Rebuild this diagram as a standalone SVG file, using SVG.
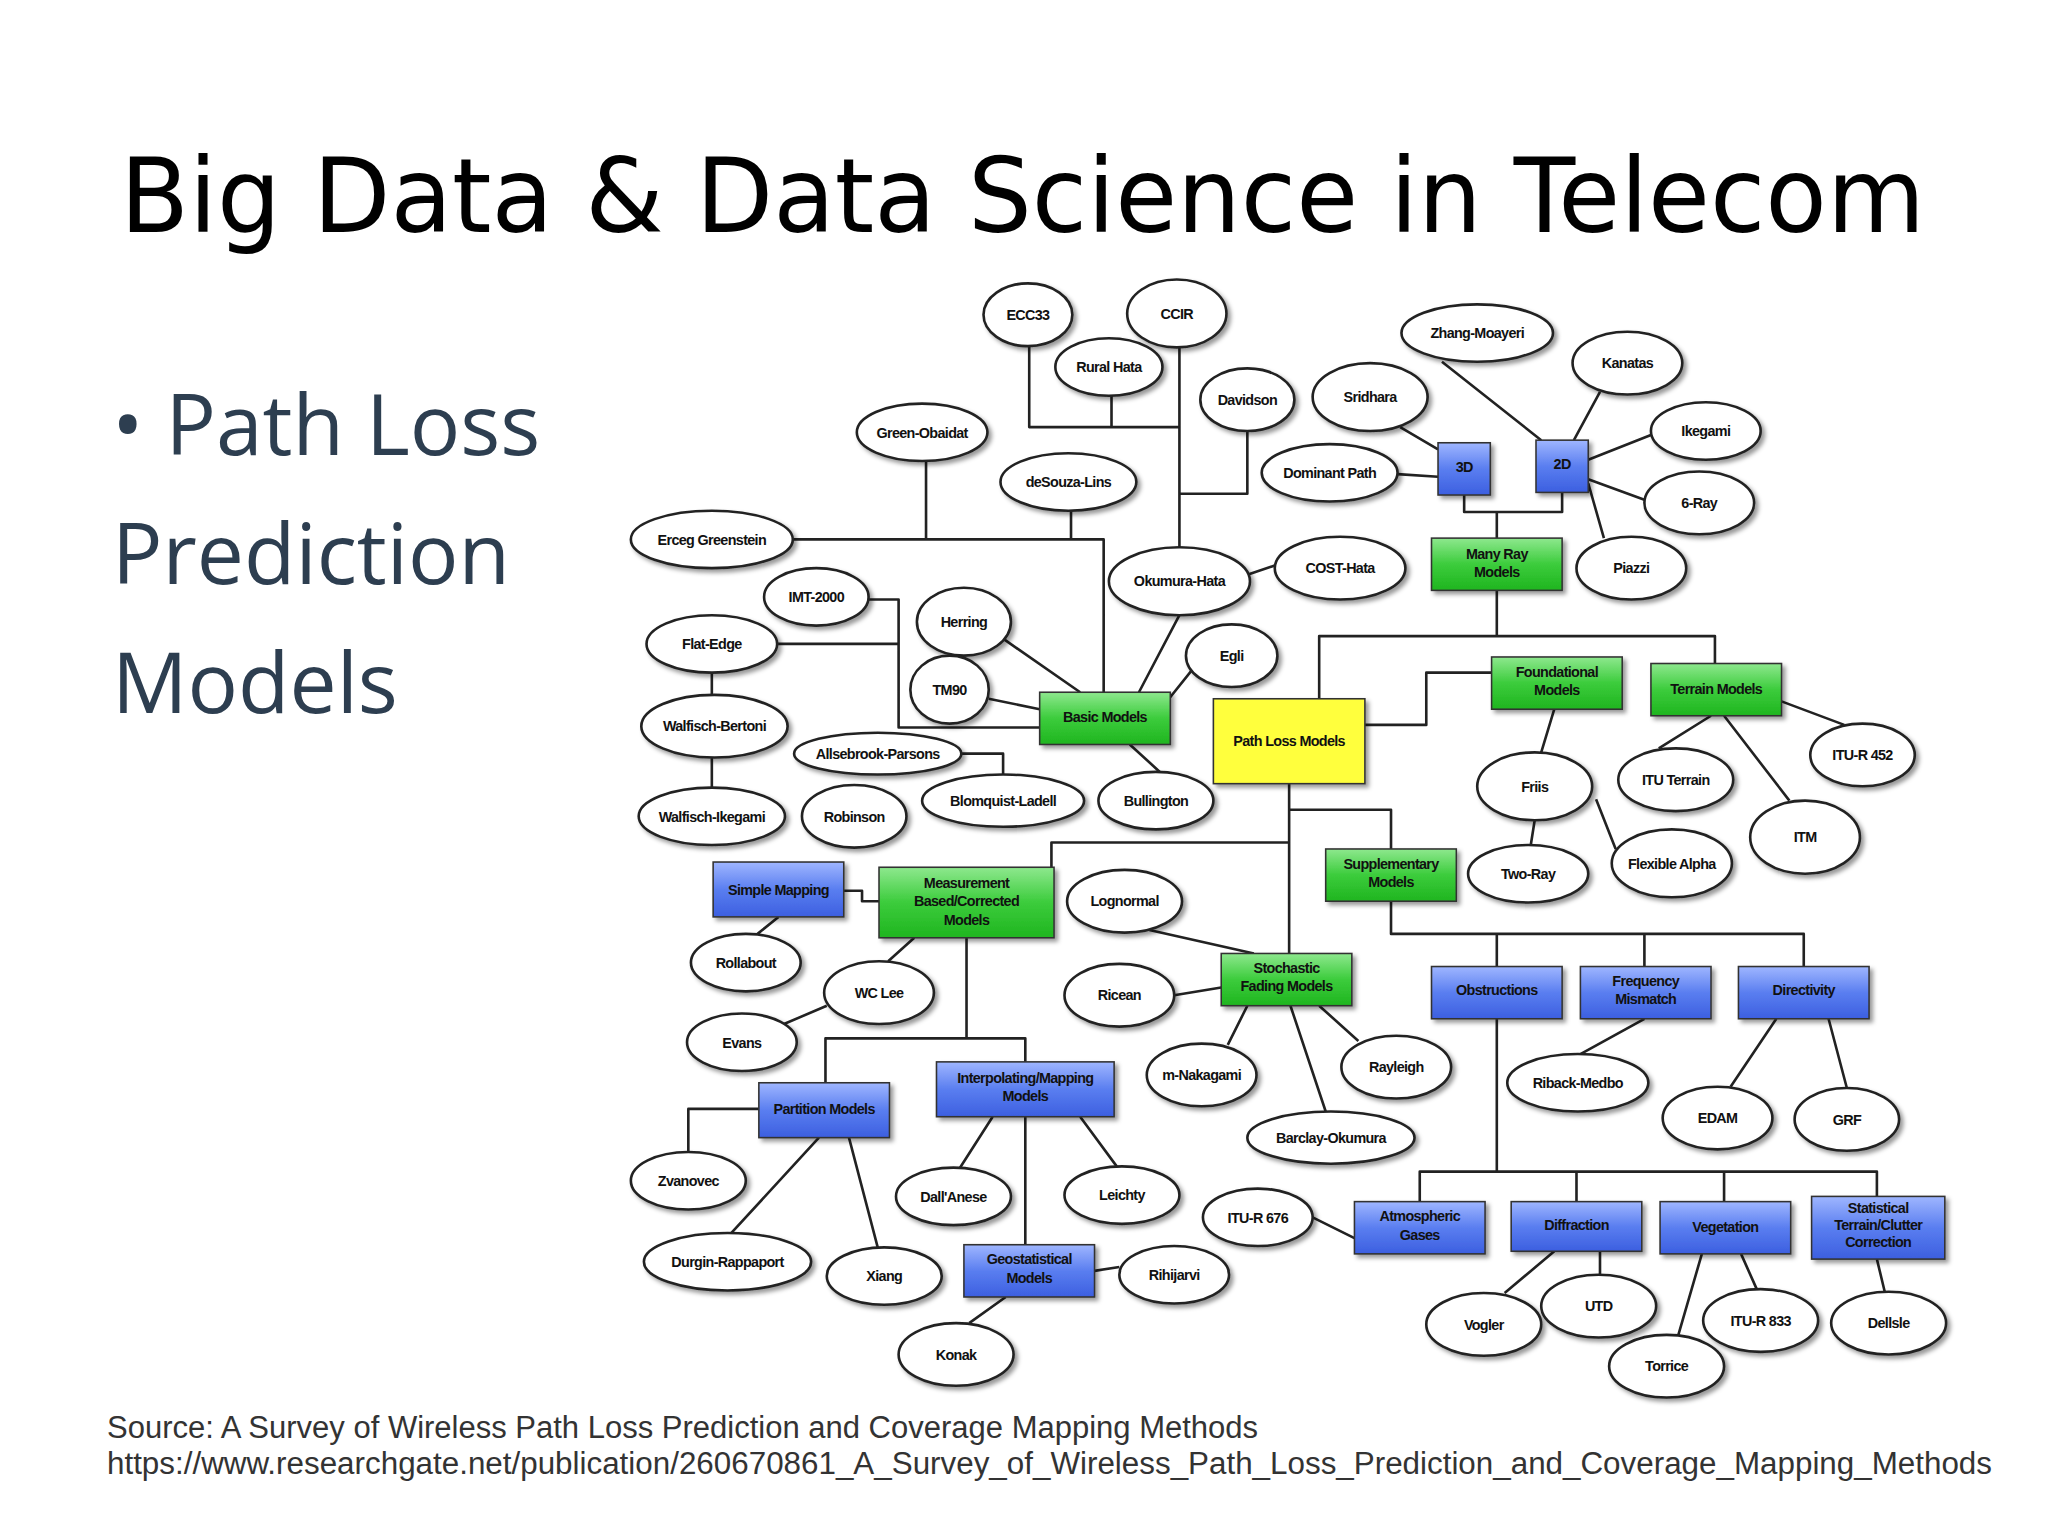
<svg xmlns="http://www.w3.org/2000/svg" width="2048" height="1536" viewBox="0 0 2048 1536">
<defs>
<linearGradient id="gg" x1="0" y1="0" x2="0" y2="1"><stop offset="0" stop-color="#8ee88e"/><stop offset="0.5" stop-color="#3ccc3c"/><stop offset="1" stop-color="#1fb51f"/></linearGradient>
<linearGradient id="gb" x1="0" y1="0" x2="0" y2="1"><stop offset="0" stop-color="#9fb6ff"/><stop offset="0.5" stop-color="#5a7ef0"/><stop offset="1" stop-color="#3c5fe0"/></linearGradient>
<filter id="sh" x="-20%" y="-20%" width="150%" height="150%"><feDropShadow dx="2.5" dy="2.5" stdDeviation="1.5" flood-color="#000" flood-opacity="0.4"/></filter>
<style>
.e{fill:#fff;stroke:#222;stroke-width:2;filter:url(#sh)}
.g{fill:url(#gg);stroke:#333;stroke-width:1.2;filter:url(#sh)}
.b{fill:url(#gb);stroke:#333;stroke-width:1.2;filter:url(#sh)}
.y{fill:#ffff3c;stroke:#333;stroke-width:1.2;filter:url(#sh)}
.c{fill:none;stroke:#222;stroke-width:2;stroke-linejoin:round}
text.t{font-family:"Liberation Sans",Arial,sans-serif;font-weight:bold;font-size:11px;text-anchor:middle;fill:#111;letter-spacing:-0.5px}
text.w{fill:#fff}
</style>
</defs>
<rect width="2048" height="1536" fill="#fff"/>
<text x="120" y="232" font-family="'DejaVu Sans',sans-serif" font-size="104" fill="#000" textLength="1805" lengthAdjust="spacingAndGlyphs">Big Data &amp; Data Science in Telecom</text>
<g font-family="'Open Sans','Liberation Sans',sans-serif" font-size="84" fill="#2d3e50">
<text x="112" y="455">•  Path Loss</text>
<text x="112" y="584">Prediction</text>
<text x="112" y="713">Models</text>
</g>
<g font-family="'Liberation Sans',Arial,sans-serif" font-size="31" fill="#333">
<text x="107" y="1438">Source: A Survey of Wireless Path Loss Prediction and Coverage Mapping Methods</text>
<text x="107" y="1474" textLength="1885" lengthAdjust="spacingAndGlyphs">https://www.researchgate.net/publication/260670861_A_Survey_of_Wireless_Path_Loss_Prediction_and_Coverage_Mapping_Methods</text>
</g>
<g transform="scale(1.30612)">
<g id="connectors">
<path class="c" d="M788,265V327H903M851,303V327M903,266V419M955,330V378H903"/>
<path class="c" d="M903,471L872,530M709,353V413M607,413H845V530M820,391V413"/>
<path class="c" d="M665,459H688V557H796M595,493H688M768,489L827,530M757,535L796,543M915,510L895,535M865,570L888,591"/>
<path class="c" d="M545,515V532M545,580V603M736,577H768V593"/>
<path class="c" d="M987,600V730M987,645H805V664M987,620H1065V650"/>
<path class="c" d="M1065,690V715H1381V740M1146,715V897M1259,715V740M1087,920V897H1437V916M1207,897V920M1320,897V920"/>
<path class="c" d="M1010,535V487H1313V508M1146,452V487M1121,379V392H1196V377M1146,392V412"/>
<path class="c" d="M1072,327L1101,344M1070,363L1101,365M1104,277L1180,337M1225,300L1205,337M1264,333L1216,352M1260,383L1216,367M1228,412L1216,370M955,440L976,433"/>
<path class="c" d="M1045,555H1092V515H1142M1190,543L1180,576M1175,628L1172,647M1222,612L1237,650M1310,548L1270,573M1320,548L1370,613M1364,537L1412,555"/>
<path class="c" d="M646,682H660V690H673M596,702L580,715M700,718L680,736M633,770L598,785"/>
<path class="c" d="M740,718V795H632V829M740,795H785V813M880,712L960,730M899,762L935,756M955,770L940,800M988,770L1015,851M1010,770L1040,797"/>
<path class="c" d="M1259,780L1210,807M1360,780L1325,832M1400,780L1414,833"/>
<path class="c" d="M581,849H527V882M627,871L560,944M650,871L672,955M760,855L735,894M785,855V953M827,855L855,893M838,973L857,970M770,993L742,1013"/>
<path class="c" d="M1005,932L1037,948M1190,958L1152,990M1225,958V976M1303,960L1285,1022M1333,960L1345,987M1437,964L1443,989"/>
</g>
<g id="n-ecc33"><ellipse class="e" cx="787" cy="241" rx="34" ry="24"/><text class="t" x="787" y="245">ECC33</text></g>
<g id="n-ccir"><ellipse class="e" cx="901" cy="240" rx="38" ry="26"/><text class="t" x="901" y="244">CCIR</text></g>
<g id="n-ruralhata"><ellipse class="e" cx="849" cy="281" rx="41" ry="22"/><text class="t" x="849" y="285">Rural Hata</text></g>
<g id="n-davidson"><ellipse class="e" cx="955" cy="306" rx="36" ry="24"/><text class="t" x="955" y="310">Davidson</text></g>
<g id="n-green"><ellipse class="e" cx="706" cy="331" rx="50" ry="22"/><text class="t" x="706" y="335">Green-Obaidat</text></g>
<g id="n-desouza"><ellipse class="e" cx="818" cy="369" rx="52" ry="22"/><text class="t" x="818" y="373">deSouza-Lins</text></g>
<g id="n-erceg"><ellipse class="e" cx="545" cy="413" rx="62" ry="22"/><text class="t" x="545" y="417">Erceg Greenstein</text></g>
<g id="n-sridhara"><ellipse class="e" cx="1049" cy="304" rx="44" ry="26"/><text class="t" x="1049" y="308">Sridhara</text></g>
<g id="n-zhang"><ellipse class="e" cx="1131" cy="255" rx="58" ry="22"/><text class="t" x="1131" y="259">Zhang-Moayeri</text></g>
<g id="n-kanatas"><ellipse class="e" cx="1246" cy="278" rx="42" ry="24"/><text class="t" x="1246" y="282">Kanatas</text></g>
<g id="n-ikegami"><ellipse class="e" cx="1306" cy="330" rx="42" ry="22"/><text class="t" x="1306" y="334">Ikegami</text></g>
<g id="n-6ray"><ellipse class="e" cx="1301" cy="385" rx="42" ry="24"/><text class="t" x="1301" y="389">6-Ray</text></g>
<g id="n-dominant"><ellipse class="e" cx="1018" cy="362" rx="52" ry="22"/><text class="t" x="1018" y="366">Dominant Path</text></g>
<g id="n-piazzi"><ellipse class="e" cx="1249" cy="435" rx="42" ry="24"/><text class="t" x="1249" y="439">Piazzi</text></g>
<g id="n-cost"><ellipse class="e" cx="1026" cy="435" rx="50" ry="24"/><text class="t" x="1026" y="439">COST-Hata</text></g>
<g id="n-okumura"><ellipse class="e" cx="903" cy="445" rx="54" ry="26"/><text class="t" x="903" y="449">Okumura-Hata</text></g>
<g id="n-imt"><ellipse class="e" cx="625" cy="457" rx="40" ry="22"/><text class="t" x="625" y="461">IMT-2000</text></g>
<g id="n-herring"><ellipse class="e" cx="738" cy="476" rx="36" ry="26"/><text class="t" x="738" y="480">Herring</text></g>
<g id="n-flatedge"><ellipse class="e" cx="545" cy="493" rx="50" ry="22"/><text class="t" x="545" y="497">Flat-Edge</text></g>
<g id="n-egli"><ellipse class="e" cx="943" cy="502" rx="35" ry="24"/><text class="t" x="943" y="506">Egli</text></g>
<g id="n-tm90"><ellipse class="e" cx="727" cy="528" rx="30" ry="26"/><text class="t" x="727" y="532">TM90</text></g>
<g id="n-wb"><ellipse class="e" cx="547" cy="556" rx="56" ry="24"/><text class="t" x="547" y="560">Walfisch-Bertoni</text></g>
<g id="n-allse"><ellipse class="e" cx="672" cy="577" rx="64" ry="16"/><text class="t" x="672" y="581">Allsebrook-Parsons</text></g>
<g id="n-wi"><ellipse class="e" cx="545" cy="625" rx="56" ry="22"/><text class="t" x="545" y="629">Walfisch-Ikegami</text></g>
<g id="n-robinson"><ellipse class="e" cx="654" cy="625" rx="40" ry="24"/><text class="t" x="654" y="629">Robinson</text></g>
<g id="n-blomquist"><ellipse class="e" cx="768" cy="613" rx="62" ry="20"/><text class="t" x="768" y="617">Blomquist-Ladell</text></g>
<g id="n-bullington"><ellipse class="e" cx="885" cy="613" rx="44" ry="22"/><text class="t" x="885" y="617">Bullington</text></g>
<g id="n-friis"><ellipse class="e" cx="1175" cy="602" rx="44" ry="26"/><text class="t" x="1175" y="606">Friis</text></g>
<g id="n-ituterrain"><ellipse class="e" cx="1283" cy="597" rx="44" ry="24"/><text class="t" x="1283" y="601">ITU Terrain</text></g>
<g id="n-itur452"><ellipse class="e" cx="1426" cy="578" rx="40" ry="24"/><text class="t" x="1426" y="582">ITU-R 452</text></g>
<g id="n-itm"><ellipse class="e" cx="1382" cy="641" rx="42" ry="28"/><text class="t" x="1382" y="645">ITM</text></g>
<g id="n-flex"><ellipse class="e" cx="1280" cy="661" rx="46" ry="26"/><text class="t" x="1280" y="665">Flexible Alpha</text></g>
<g id="n-tworay"><ellipse class="e" cx="1170" cy="669" rx="46" ry="22"/><text class="t" x="1170" y="673">Two-Ray</text></g>
<g id="n-lognormal"><ellipse class="e" cx="861" cy="690" rx="44" ry="24"/><text class="t" x="861" y="694">Lognormal</text></g>
<g id="n-rollabout"><ellipse class="e" cx="571" cy="737" rx="42" ry="22"/><text class="t" x="571" y="741">Rollabout</text></g>
<g id="n-wclee"><ellipse class="e" cx="673" cy="760" rx="42" ry="24"/><text class="t" x="673" y="764">WC Lee</text></g>
<g id="n-ricean"><ellipse class="e" cx="857" cy="762" rx="42" ry="24"/><text class="t" x="857" y="766">Ricean</text></g>
<g id="n-evans"><ellipse class="e" cx="568" cy="798" rx="42" ry="22"/><text class="t" x="568" y="802">Evans</text></g>
<g id="n-nakagami"><ellipse class="e" cx="920" cy="823" rx="42" ry="24"/><text class="t" x="920" y="827">m-Nakagami</text></g>
<g id="n-rayleigh"><ellipse class="e" cx="1069" cy="817" rx="42" ry="24"/><text class="t" x="1069" y="821">Rayleigh</text></g>
<g id="n-riback"><ellipse class="e" cx="1208" cy="829" rx="54" ry="22"/><text class="t" x="1208" y="833">Riback-Medbo</text></g>
<g id="n-edam"><ellipse class="e" cx="1315" cy="856" rx="42" ry="24"/><text class="t" x="1315" y="860">EDAM</text></g>
<g id="n-grf"><ellipse class="e" cx="1414" cy="857" rx="40" ry="24"/><text class="t" x="1414" y="861">GRF</text></g>
<g id="n-barclay"><ellipse class="e" cx="1019" cy="871" rx="64" ry="20"/><text class="t" x="1019" y="875">Barclay-Okumura</text></g>
<g id="n-zvanovec"><ellipse class="e" cx="527" cy="904" rx="44" ry="22"/><text class="t" x="527" y="908">Zvanovec</text></g>
<g id="n-dallanese"><ellipse class="e" cx="730" cy="916" rx="44" ry="22"/><text class="t" x="730" y="920">Dall'Anese</text></g>
<g id="n-leichty"><ellipse class="e" cx="859" cy="915" rx="44" ry="22"/><text class="t" x="859" y="919">Leichty</text></g>
<g id="n-itur676"><ellipse class="e" cx="963" cy="932" rx="42" ry="22"/><text class="t" x="963" y="936">ITU-R 676</text></g>
<g id="n-durgin"><ellipse class="e" cx="557" cy="966" rx="64" ry="22"/><text class="t" x="557" y="970">Durgin-Rappaport</text></g>
<g id="n-xiang"><ellipse class="e" cx="677" cy="977" rx="44" ry="22"/><text class="t" x="677" y="981">Xiang</text></g>
<g id="n-rihijarvi"><ellipse class="e" cx="899" cy="976" rx="42" ry="22"/><text class="t" x="899" y="980">Rihijarvi</text></g>
<g id="n-vogler"><ellipse class="e" cx="1136" cy="1014" rx="44" ry="24"/><text class="t" x="1136" y="1018">Vogler</text></g>
<g id="n-utd"><ellipse class="e" cx="1224" cy="1000" rx="44" ry="24"/><text class="t" x="1224" y="1004">UTD</text></g>
<g id="n-itur833"><ellipse class="e" cx="1348" cy="1011" rx="44" ry="24"/><text class="t" x="1348" y="1015">ITU-R 833</text></g>
<g id="n-dellsle"><ellipse class="e" cx="1446" cy="1013" rx="44" ry="24"/><text class="t" x="1446" y="1017">Dellsle</text></g>
<g id="n-torrice"><ellipse class="e" cx="1276" cy="1046" rx="44" ry="24"/><text class="t" x="1276" y="1050">Torrice</text></g>
<g id="n-konak"><ellipse class="e" cx="732" cy="1037" rx="44" ry="24"/><text class="t" x="732" y="1041">Konak</text></g>

<g id="b-3d"><rect class="b" x="1101" y="339" width="40" height="40"/><text class="t" x="1121" y="361">3D</text></g>
<g id="b-2d"><rect class="b" x="1176" y="337" width="40" height="40"/><text class="t" x="1196" y="359">2D</text></g>
<g id="b-manyray"><rect class="g" x="1096" y="412" width="100" height="40"/><text class="t" x="1146" y="428">Many Ray</text><text class="t" x="1146" y="442">Models</text></g>
<g id="b-basic"><rect class="g" x="796" y="530" width="100" height="40"/><text class="t" x="846" y="553">Basic Models</text></g>
<g id="b-pathloss"><rect class="y" x="929" y="535" width="116" height="65"/><text class="t" x="987" y="571">Path Loss Models</text></g>
<g id="b-found"><rect class="g" x="1142" y="503" width="100" height="40"/><text class="t" x="1192" y="518">Foundational</text><text class="t" x="1192" y="532">Models</text></g>
<g id="b-terrain"><rect class="g" x="1264" y="508" width="100" height="40"/><text class="t" x="1314" y="531">Terrain Models</text></g>
<g id="b-supp"><rect class="g" x="1015" y="650" width="100" height="40"/><text class="t" x="1065" y="665">Supplementary</text><text class="t" x="1065" y="679">Models</text></g>
<g id="b-simple"><rect class="b" x="546" y="660" width="100" height="42"/><text class="t" x="596" y="685">Simple Mapping</text></g>
<g id="b-measure"><rect class="g" x="673" y="664" width="134" height="54"/><text class="t" x="740" y="680">Measurement</text><text class="t" x="740" y="694">Based/Corrected</text><text class="t" x="740" y="708">Models</text></g>
<g id="b-stoch"><rect class="g" x="935" y="730" width="100" height="40"/><text class="t" x="985" y="745">Stochastic</text><text class="t" x="985" y="759">Fading Models</text></g>
<g id="b-obst"><rect class="b" x="1096" y="740" width="100" height="40"/><text class="t" x="1146" y="762">Obstructions</text></g>
<g id="b-freq"><rect class="b" x="1210" y="740" width="100" height="40"/><text class="t" x="1260" y="755">Frequency</text><text class="t" x="1260" y="769">Mismatch</text></g>
<g id="b-dir"><rect class="b" x="1331" y="740" width="100" height="40"/><text class="t" x="1381" y="762">Directivity</text></g>
<g id="b-interp"><rect class="b" x="717" y="813" width="136" height="42"/><text class="t" x="785" y="829">Interpolating/Mapping</text><text class="t" x="785" y="843">Models</text></g>
<g id="b-partition"><rect class="b" x="581" y="829" width="100" height="42"/><text class="t" x="631" y="853">Partition Models</text></g>
<g id="b-geo"><rect class="b" x="738" y="953" width="100" height="40"/><text class="t" x="788" y="968">Geostatistical</text><text class="t" x="788" y="982">Models</text></g>
<g id="b-atmo"><rect class="b" x="1037" y="920" width="100" height="40"/><text class="t" x="1087" y="935">Atmospheric</text><text class="t" x="1087" y="949">Gases</text></g>
<g id="b-diff"><rect class="b" x="1157" y="920" width="100" height="38"/><text class="t" x="1207" y="942">Diffraction</text></g>
<g id="b-veg"><rect class="b" x="1271" y="920" width="100" height="40"/><text class="t" x="1321" y="943">Vegetation</text></g>
<g id="b-stat"><rect class="b" x="1387" y="916" width="102" height="48"/><text class="t" x="1438" y="929">Statistical</text><text class="t" x="1438" y="942">Terrain/Clutter</text><text class="t" x="1438" y="955">Correction</text></g>
</g>
</svg>
